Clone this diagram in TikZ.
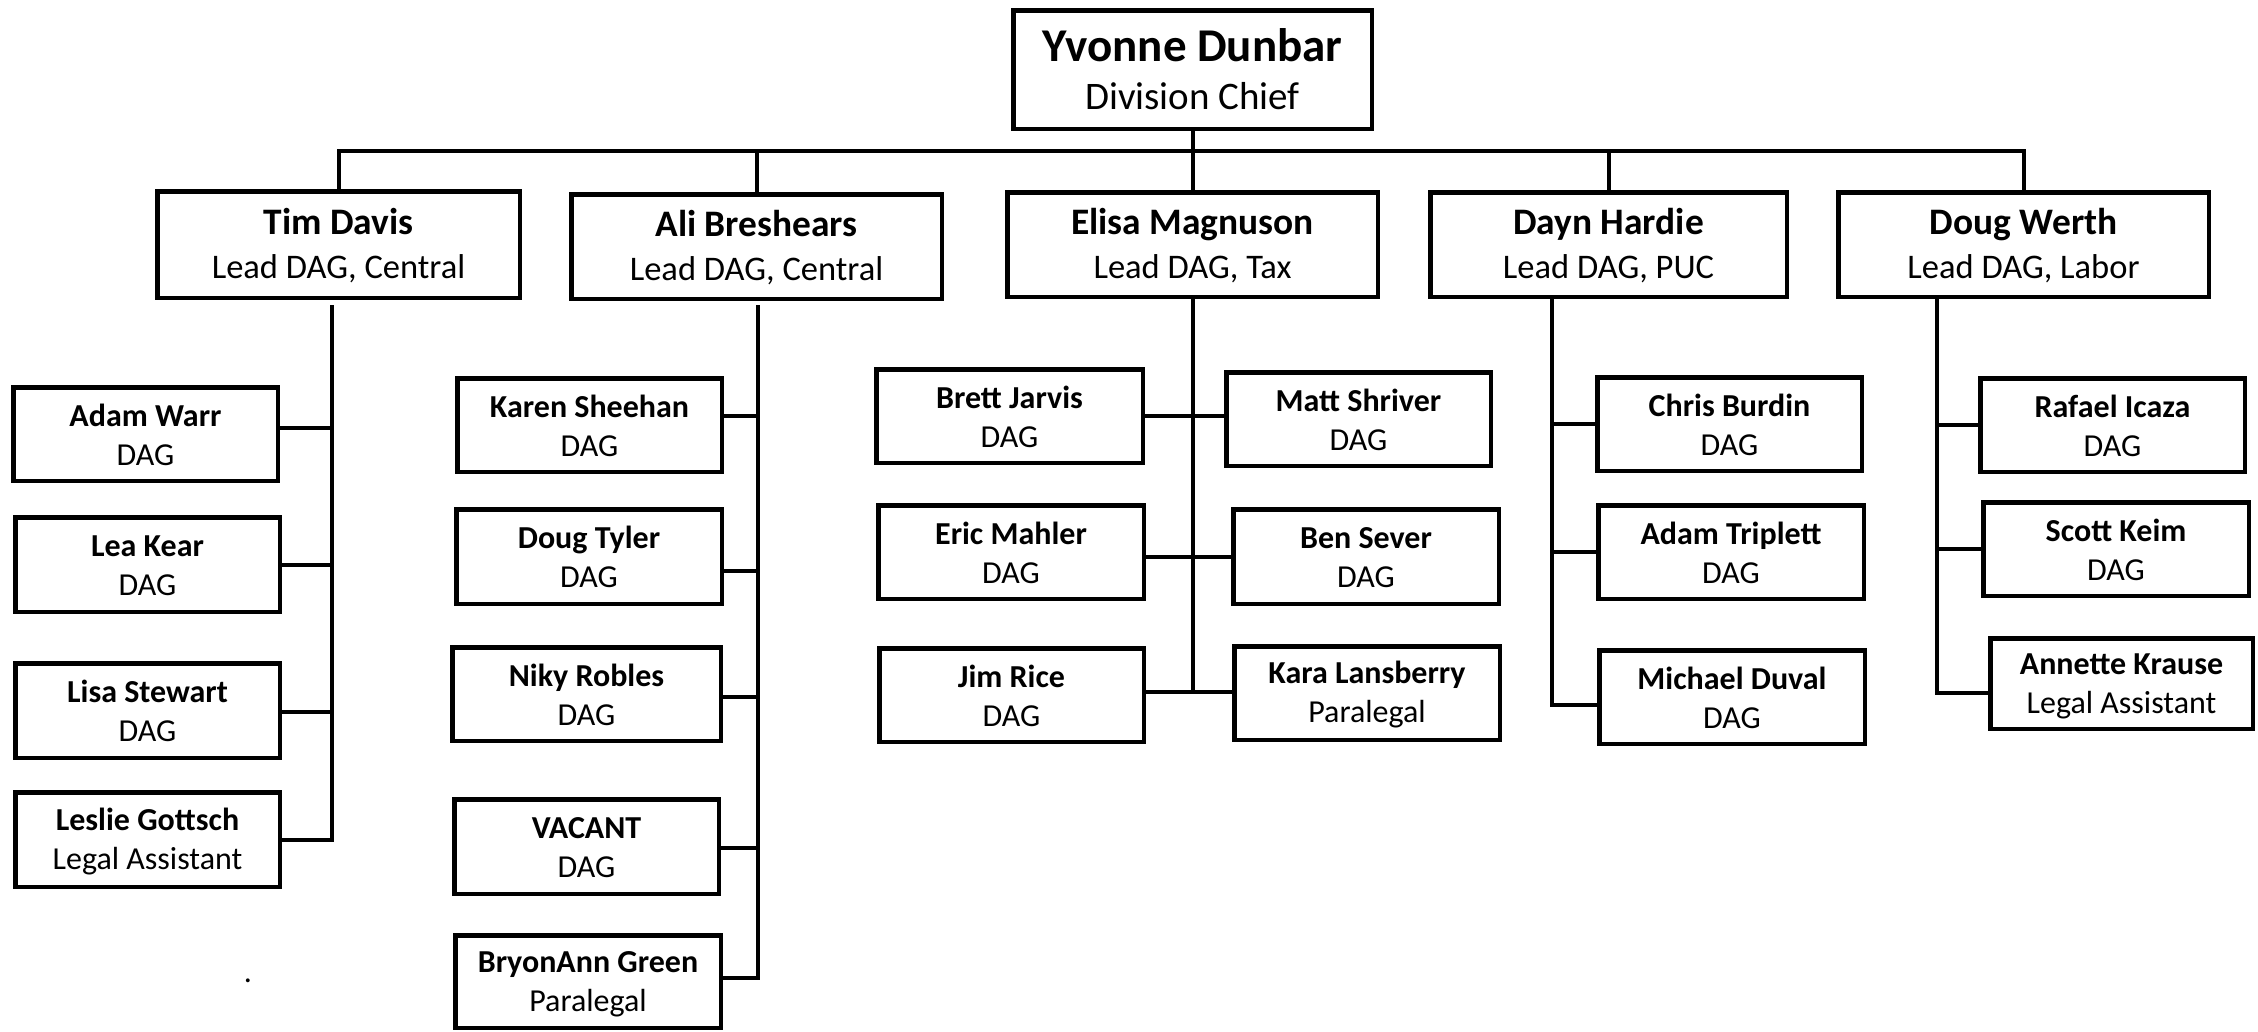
\documentclass[tikz,border=0pt]{standalone}
\usepackage{fontspec}
\setmainfont{Carlito}
\usetikzlibrary{calc}

% two-line card text: bold name, regular title; struts fix the block height
\newcommand\titlesize{}
\newcommand\nameh{0.8em}
\newcommand\titled{0.1em}
\newcommand\who[2]{{\bfseries\rule{0pt}{\nameh}#1}\\{\titlesize#2\rule[-\titled]{0pt}{\titled}}}

% \card{style}{name}{x1}{y1}{x2}{y2}{text}: box given by its outer edges
\newcommand\card[7]{%
  \node[#1, minimum width={#5-#3-4.5}, minimum height={#6-#4-4.5}]
    (#2) at ({(#3+#5)/2},{(#4+#6)/2}) {#7};}

\tikzset{
  person/.style={draw, line width=4.5pt, inner sep=0pt, align=center, fill=white},
  chiefbox/.style={person, font={\fontsize{47}{48}\selectfont
      \def\titlesize{\fontsize{39}{48}\selectfont}\def\titled{0.14em}}},
  leadbox/.style={person, font={\fontsize{37.4}{44}\selectfont
      \def\titlesize{\fontsize{34.5}{44}\selectfont}\def\titled{0.15em}}},
  staffbox/.style={person, font={\fontsize{32}{39}\selectfont
      \def\titlesize{\fontsize{32}{39}\selectfont}\def\titled{0.08em}}},
  link/.style={line width=4pt},
}

\begin{document}
\begin{tikzpicture}[x=1pt, y=-1pt]
\fill[white] (0,0) rectangle (2258,1031);
\useasboundingbox (0,0) rectangle (2258,1031);

% division chief
\card{chiefbox}{chief}{1011}{8}{1374}{131}{\who{Yvonne Dunbar}{Division Chief}}

% lead DAGs
\card{leadbox}{tim}{155}{189}{522}{300}{\who{Tim Davis}{Lead DAG, Central}}
\card{leadbox}{ali}{569}{192}{944}{301}{\who{Ali Breshears}{Lead DAG, Central}}
\card{leadbox}{elisa}{1005}{190}{1380}{299}{\who{Elisa Magnuson}{Lead DAG, Tax}}
\card{leadbox}{dayn}{1428}{190}{1789}{299}{\who{Dayn Hardie}{Lead DAG, PUC}}
\card{leadbox}{doug}{1836}{190}{2211}{299}{\who{Doug Werth}{Lead DAG, Labor}}

% Central (Tim Davis)
\card{staffbox}{adam}{11}{385}{280}{483}{\who{Adam Warr}{DAG}}
\card{staffbox}{lea}{13}{515}{282}{614}{\who{Lea Kear}{DAG}}
\card{staffbox}{lisa}{13}{661}{282}{760}{\who{Lisa Stewart}{DAG}}
\card{staffbox}{leslie}{13}{790}{282}{889}{\who{Leslie Gottsch}{Legal Assistant}}

% Central (Ali Breshears)
\card{staffbox}{karen}{455}{376}{724}{474}{\who{Karen Sheehan}{DAG}}
\card{staffbox}{dtyler}{454}{507}{724}{606}{\who{Doug Tyler}{DAG}}
\card{staffbox}{niky}{450}{645}{723}{743}{\who{Niky Robles}{DAG}}
\card{staffbox}{vacant}{452}{797}{721}{896}{\who{VACANT}{DAG}}
\card{staffbox}{bryonann}{453}{933}{723}{1030}{\who{BryonAnn Green}{Paralegal}}

% Tax
\card{staffbox}{brett}{874}{367}{1145}{465}{\who{Brett Jarvis}{DAG}}
\card{staffbox}{matt}{1224}{370}{1493}{468}{\who{Matt Shriver}{DAG}}
\card{staffbox}{eric}{876}{503}{1146}{601}{\who{Eric Mahler}{DAG}}
\card{staffbox}{ben}{1231}{507}{1501}{606}{\who{Ben Sever}{DAG}}
\card{staffbox}{jim}{877}{646}{1146}{744}{\who{Jim Rice}{DAG}}
\card{staffbox}{kara}{1232}{644}{1502}{742}{\who{Kara Lansberry}{Paralegal}}

% PUC
\card{staffbox}{chris}{1595}{375}{1864}{473}{\who{Chris Burdin}{DAG}}
\card{staffbox}{atriplett}{1596}{503}{1866}{601}{\who{Adam Triplett}{DAG}}
\card{staffbox}{michael}{1597}{648}{1867}{746}{\who{Michael Duval}{DAG}}

% Labor
\card{staffbox}{rafael}{1978}{376}{2247}{474}{\who{Rafael Icaza}{DAG}}
\card{staffbox}{scott}{1981}{500}{2251}{598}{\who{Scott Keim}{DAG}}
\card{staffbox}{annette}{1988}{636}{2255}{731}{\who{Annette Krause}{Legal Assistant}}

\node[font=\fontsize{32}{32}\selectfont, inner sep=0pt, anchor=base] (dot) at (248,982) {.};

% chief to leads
\coordinate (bus) at (0,151);
\draw[link] (tim.north) -- (tim.north |- bus) -- (doug.north |- bus) -- (doug.north);
\draw[link] (ali.north) -- (ali.north |- bus);
\draw[link] (dayn.north) -- (dayn.north |- bus);
\draw[link] (chief.south) -- (elisa.north);

% spine tops under each lead
\coordinate (timtop) at (332,305);
\coordinate (alitop) at (758,305);
\coordinate (elisatop) at (elisa.south);
\coordinate (dayntop) at (1552,299);
\coordinate (dougtop) at (1937,299);

% Tim Davis column
\draw[link] (timtop) |- ($(leslie.east)+(0,0.5)$);
\draw[link] ($(adam.east)+(0,-6)$) coordinate (c1) -- (timtop |- c1);
\draw[link] (lea.east) -- (timtop |- lea.east);
\draw[link] ($(lisa.east)+(0,1.5)$) coordinate (c2) -- (timtop |- c2);

% Ali Breshears column
\draw[link] (alitop) |- ($(bryonann.east)+(0,-4)$);
\draw[link] ($(karen.east)+(0,-9)$) coordinate (c3) -- (alitop |- c3);
\draw[link] ($(dtyler.east)+(0,14.5)$) coordinate (c4) -- (alitop |- c4);
\draw[link] ($(niky.east)+(0,3)$) coordinate (c5) -- (alitop |- c5);
\draw[link] ($(vacant.east)+(0,1.5)$) coordinate (c6) -- (alitop |- c6);

% Elisa Magnuson column
\draw[link] (elisatop) -- ($(elisatop |- kara.west)+(0,-1.5)$);
\draw[link] (brett.east) -- (brett.east -| matt.west);
\draw[link] (ben.west) -- (ben.west -| eric.east);
\draw[link] ($(kara.west)+(0,-1.5)$) coordinate (c7) -- (c7 -| jim.east);

% Dayn Hardie column
\draw[link] (dayntop) |- ($(michael.west)+(0,8)$);
\draw[link] (chris.west) -- (dayntop |- chris.west);
\draw[link] (atriplett.west) -- (dayntop |- atriplett.west);

% Doug Werth column
\draw[link] (dougtop) |- ($(annette.west)+(0,9.5)$);
\draw[link] (rafael.west) -- (dougtop |- rafael.west);
\draw[link] (scott.west) -- (dougtop |- scott.west);
\end{tikzpicture}
\end{document}
